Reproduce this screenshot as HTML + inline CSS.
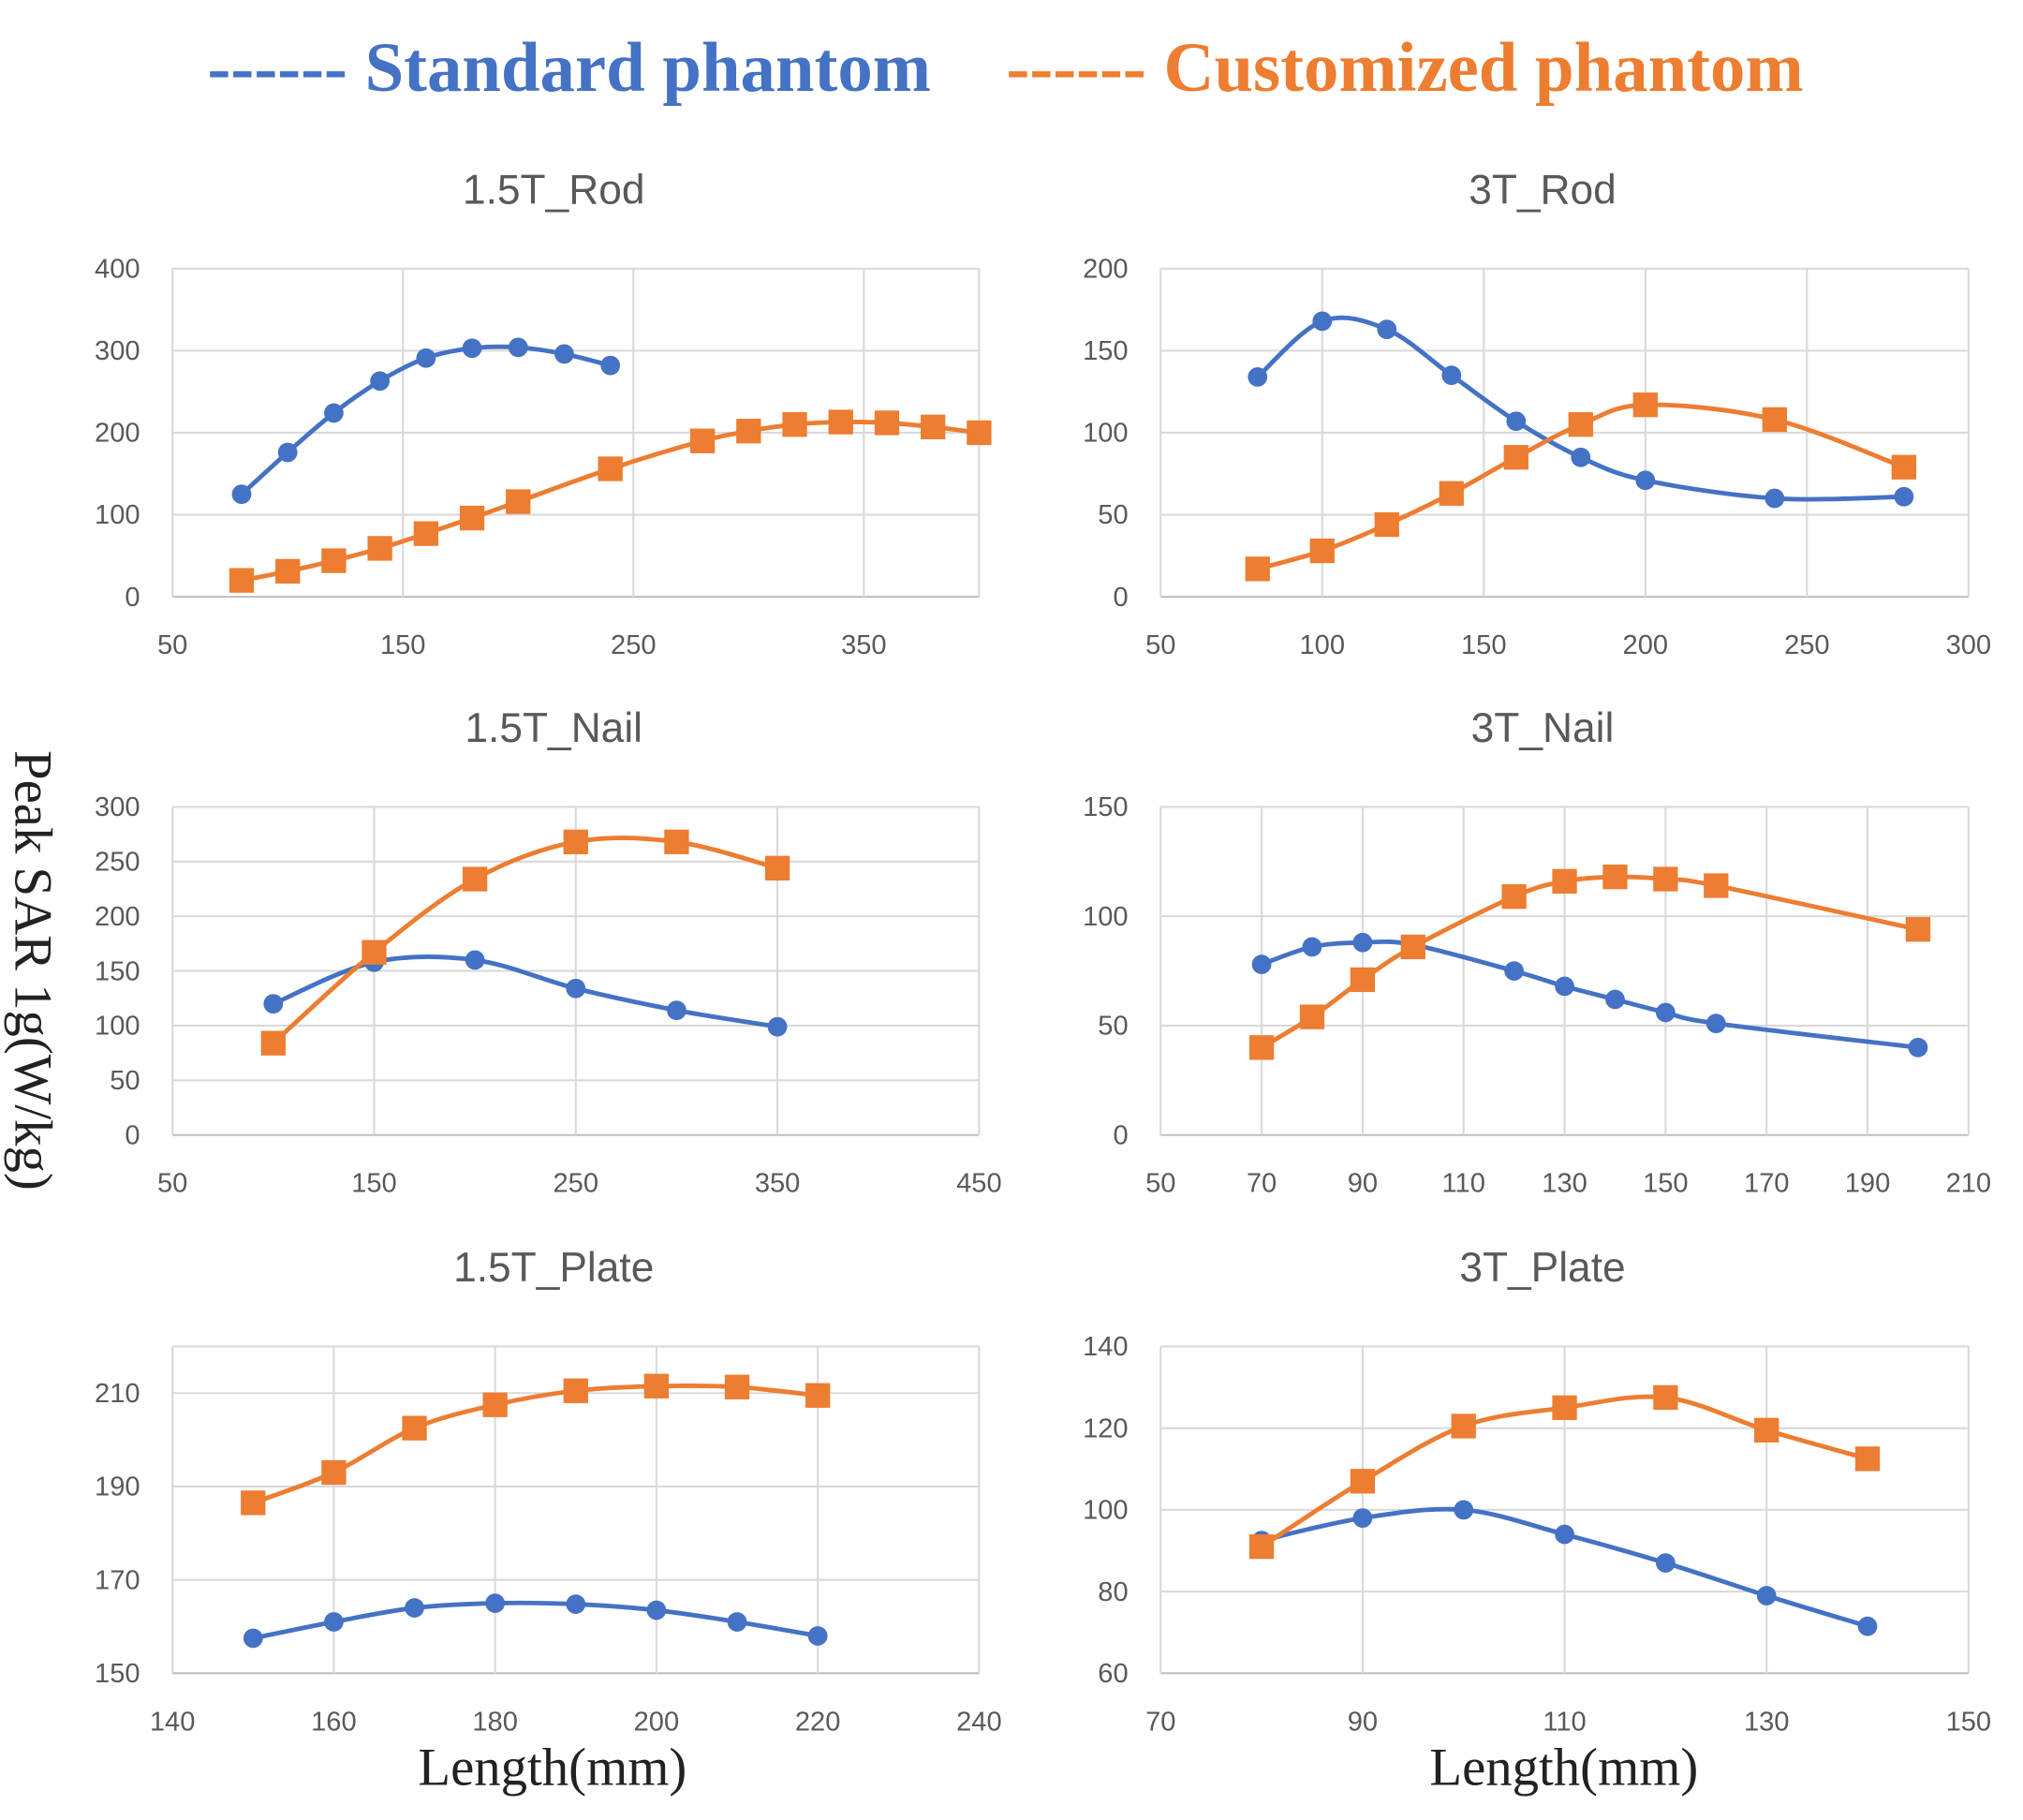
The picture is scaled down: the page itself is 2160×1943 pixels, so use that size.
<!DOCTYPE html>
<html><head><meta charset="utf-8"><style>
html,body{margin:0;padding:0;background:#fff;}
svg{display:block;}
</style></head><body>
<svg id="fig" width="2160" height="1943" viewBox="0 0 1560 1403" xmlns="http://www.w3.org/2000/svg">
<text x="160" y="70" font-family="Liberation Serif, serif" font-weight="bold" font-size="54" fill="#4472C4">------ Standard phantom</text>
<text x="776" y="70" font-family="Liberation Serif, serif" font-weight="bold" font-size="54" fill="#ED7D31">------ Customized phantom</text>
<text transform="translate(12,748) rotate(90)" text-anchor="middle" font-family="Liberation Serif, serif" font-size="41" fill="#222">Peak SAR 1g(W/kg)</text>
<text x="426" y="1376" text-anchor="middle" font-family="Liberation Serif, serif" font-size="41" fill="#222">Length(mm)</text>
<text x="1206" y="1376" text-anchor="middle" font-family="Liberation Serif, serif" font-size="41" fill="#222">Length(mm)</text>
<g id="charts"></g>
</svg>
<script>
// 1.5T_Rod
const rod15X=[50,150,250,350], rod15Y=[0,100,200,300,400];
const rod15BlueX=[80,100,120,140,160,180,200,220,240];
const rod15BlueV=[125,176,224,263,291,303,304,296,282];
const rod15OrX=[80,100,120,140,160,180,200,240,280,300,320,340,360,380,400];
const rod15OrV=[20,31,44,59,77,96,116,156,190,202,210,213,212,207,200];
// 3T_Rod
const rod3X=[50,100,150,200,250,300], rod3Y=[0,50,100,150,200];
const rod3BlueX=[80,100,120,140,160,180,200,240,280];
const rod3BlueV=[134,168,163,135,107,85,71,60,61];
const rod3OrX=[80,100,120,140,160,180,200,240,280];
const rod3OrV=[17,28,44,63,85,105,117,108,79];
// 1.5T_Nail
const nail15X=[50,150,250,350,450], nail15Y=[0,50,100,150,200,250,300];
const nail15BlueX=[100,150,200,250,300,350];
const nail15BlueV=[120,158,160,134,114,99];
const nail15OrX=[100,150,200,250,300,350];
const nail15OrV=[84,167,234,268,268,244];
// 3T_Nail
const nail3X=[50,70,90,110,130,150,170,190,210], nail3Y=[0,50,100,150];
const nail3BlueX=[70,80,90,100,120,130,140,150,160,200];
const nail3BlueV=[78,86,88,87,75,68,62,56,51,40];
const nail3OrX=[70,80,90,100,120,130,140,150,160,200];
const nail3OrV=[40,54,71,86,109,116,118,117,114,94];
// 1.5T_Plate
const plate15X=[140,160,180,200,220,240], plate15Y=[150,170,190,210];
const plate15BlueX=[150,160,170,180,190,200,210,220];
const plate15BlueV=[157.5,161,164,165,164.8,163.5,161,158];
const plate15OrX=[150,160,170,180,190,200,210,220];
const plate15OrV=[186.5,193,202.5,207.5,210.5,211.5,211.3,209.5];
// 3T_Plate
const plate3X=[70,90,110,130,150], plate3Y=[60,80,100,120,140];
const plate3BlueX=[80,90,100,110,120,130,140];
const plate3BlueV=[92.5,98,100,94,87,79,71.5];
const plate3OrX=[80,90,100,110,120,130,140];
const plate3OrV=[91,107,120.5,125,127.5,119.5,112.5];

const NS='http://www.w3.org/2000/svg';
const root=document.getElementById('charts');
function mk(tag,attrs,parent){const e=document.createElementNS(NS,tag);for(const k in attrs)e.setAttribute(k,attrs[k]);parent.appendChild(e);return e;}
function smooth(pts){
  if(pts.length<2)return '';
  let d='M'+pts[0][0]+','+pts[0][1];
  const t=1/6;
  for(let i=0;i<pts.length-1;i++){
    const p0=pts[i-1]||pts[i],p1=pts[i],p2=pts[i+1],p3=pts[i+2]||pts[i+1];
    const c1=[p1[0]+(p2[0]-p0[0])*t,p1[1]+(p2[1]-p0[1])*t];
    const c2=[p2[0]-(p3[0]-p1[0])*t,p2[1]-(p3[1]-p1[1])*t];
    d+=' C'+c1[0]+','+c1[1]+' '+c2[0]+','+c2[1]+' '+p2[0]+','+p2[1];
  }
  return d;
}
function chart(cfg){
  const g=mk('g',{},root);
  
  
  const {x0,x1,y0,y1,xt,yt}=cfg;
  const xmin=xt[0],ymin=yt[0];
  const xmax=cfg.xmax!==undefined?cfg.xmax:xt[xt.length-1];
  const ymax=cfg.ymax!==undefined?cfg.ymax:yt[yt.length-1];
  const sx=v=>x0+(v-xmin)/(xmax-xmin)*(x1-x0);
  const sy=v=>y1-(v-ymin)/(ymax-ymin)*(y1-y0);
  const title=mk('text',{x:(x0+x1)/2-17,y:y0-50,'text-anchor':'middle','font-family':'Liberation Sans, sans-serif','font-size':'32',fill:'#595959'},g);
  title.textContent=cfg.title;
  
  
  if(cfg.ymax!==undefined){const l=mk('line',{x1:x0,x2:x1,y1:y0,y2:y0,stroke:'#d9d9d9','stroke-width':1.5},g);}
  if(cfg.xmax!==undefined){const l=mk('line',{x1:x1,x2:x1,y1:y0,y2:y1,stroke:'#d9d9d9','stroke-width':1.5},g);}
  yt.forEach(v=>{
    const l=mk('line',{x1:x0,x2:x1,y1:sy(v),y2:sy(v),stroke:v===ymin?'#bfbfbf':'#d9d9d9','stroke-width':1.5},g);
    
    
    const t=mk('text',{x:x0-25,y:sy(v)+7,'text-anchor':'end','font-family':'Liberation Sans, sans-serif','font-size':'21',fill:'#595959'},g);
    t.textContent=v;
    
    
  });
  xt.forEach(v=>{
    const l=mk('line',{x1:sx(v),x2:sx(v),y1:y0,y2:y1,stroke:'#d9d9d9','stroke-width':1.5},g);
    
    
    const t=mk('text',{x:sx(v),y:y1+44,'text-anchor':'middle','font-family':'Liberation Sans, sans-serif','font-size':'21',fill:'#595959'},g);
    t.textContent=v;
    
    
  });
  const series=[{xs:cfg.ox,vs:cfg.ov,c:'#ED7D31',m:'sq',n:'customized'},{xs:cfg.bx,vs:cfg.bv,c:'#4472C4',m:'ci',n:'standard'}];
  if(cfg.blueFirst)series.reverse();
  series.forEach(s=>{
    const pts=s.xs.map((x,i)=>[sx(x),sy(s.vs[i])]);
    const p=mk('path',{d:smooth(pts),fill:'none',stroke:s.c,'stroke-width':3.5},g);
    
    
    pts.forEach(q=>{
      let e;
      if(s.m==='sq')e=mk('rect',{x:q[0]-9.5,y:q[1]-9.5,width:19,height:19,fill:s.c},g);
      else e=mk('circle',{cx:q[0],cy:q[1],r:7.5,fill:s.c},g);
      
      
    });
  });
}
const L=[133,755],R=[895,1518];
chart({name:'chart-1-5t-rod',title:'1.5T_Rod',x0:L[0],x1:L[1],y0:207,y1:460,xt:rod15X,xmax:400,yt:rod15Y,bx:rod15BlueX,bv:rod15BlueV,ox:rod15OrX,ov:rod15OrV});
chart({name:'chart-3t-rod',title:'3T_Rod',x0:R[0],x1:R[1],y0:207,y1:460,xt:rod3X,yt:rod3Y,bx:rod3BlueX,bv:rod3BlueV,ox:rod3OrX,ov:rod3OrV,blueFirst:true});
chart({name:'chart-1-5t-nail',title:'1.5T_Nail',x0:L[0],x1:L[1],y0:622,y1:875,xt:nail15X,yt:nail15Y,bx:nail15BlueX,bv:nail15BlueV,ox:nail15OrX,ov:nail15OrV,blueFirst:true});
chart({name:'chart-3t-nail',title:'3T_Nail',x0:R[0],x1:R[1],y0:622,y1:875,xt:nail3X,yt:nail3Y,bx:nail3BlueX,bv:nail3BlueV,ox:nail3OrX,ov:nail3OrV,blueFirst:true});
chart({name:'chart-1-5t-plate',title:'1.5T_Plate',x0:L[0],x1:L[1],y0:1038,y1:1290,xt:plate15X,yt:plate15Y,ymax:220,bx:plate15BlueX,bv:plate15BlueV,ox:plate15OrX,ov:plate15OrV});
chart({name:'chart-3t-plate',title:'3T_Plate',x0:R[0],x1:R[1],y0:1038,y1:1290,xt:plate3X,yt:plate3Y,bx:plate3BlueX,bv:plate3BlueV,ox:plate3OrX,ov:plate3OrV,blueFirst:true});
</script>
</body></html>
